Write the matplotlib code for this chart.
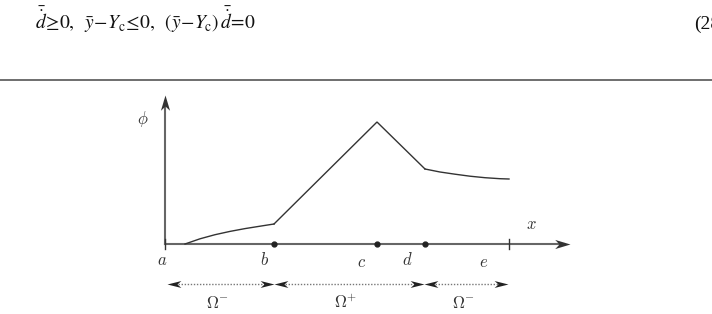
import matplotlib
matplotlib.use("Agg")
import matplotlib.pyplot as plt
from matplotlib.lines import Line2D
from matplotlib.path import Path

# ---- data (diagram units: x along axis from a, phi upward) ----
point_names = ["a", "b", "c", "d", "e"]
point_x = [0, 109, 212, 260, 344]
dot_points = ["b", "c", "d"]
tick_points = ["a", "e"]

seg1_x = [20, 35, 50, 65, 80, 95, 109]
seg1_phi = [0, 5.2, 9.3, 12.6, 15.4, 17.8, 20]
seg2_x = [109, 212, 260]
seg2_phi = [20, 122, 75]
seg3_x = [260, 275, 290, 305, 320, 335, 344]
seg3_phi = [75, 72, 69.8, 67.8, 66.3, 65.3, 65]

regions = [r"$\Omega^{-}$", r"$\Omega^{+}$", r"$\Omega^{-}$"]
region_bounds = [(2, 109), (109, 259), (259, 343)]

W, H = 712, 314
fig = plt.figure(figsize=(W / 100, H / 100), dpi=100)


def stealth(direction, w=0.3, notch=0.72):
    base = [(0, 0), (-1, w), (-notch, 0), (-1, -w), (0, 0)]
    if direction == "right":
        v = base
    elif direction == "left":
        v = [(-x, y) for x, y in base]
    else:  # up
        v = [(y, x) for x, y in base]
    codes = [Path.MOVETO, Path.LINETO, Path.LINETO, Path.LINETO, Path.CLOSEPOLY]
    return Path(v, codes)


# equation + rule
eq = (r"$\bar{\dot{d}}\!\geq\! 0,\;\;\bar{y}\!-\!Y_{\mathrm{c}}\!\leq\! 0,"
      r"\;\;(\bar{y}\!-\!Y_{\mathrm{c}})\,\bar{\dot{d}}\!=\!0$")
fig.text(35 / W, 1 - 29 / H, eq, fontsize=14, math_fontfamily="stix",
         va="baseline", ha="left", color="#111")
fig.text(694 / W, 1 - 29 / H, "(28)", fontsize=14, family="Liberation Serif",
         va="baseline", ha="left", color="#111")
fig.add_artist(Line2D([0, 1], [1 - 80 / H, 1 - 80 / H], color="#555", lw=1.2,
                      transform=fig.transFigure))

# diagram axes
x0, y0, x1, y1 = 165, 244, 570, 95
ax = fig.add_axes([x0 / W, 1 - y0 / H, (x1 - x0) / W, (y0 - y1) / H])
ax.set_xlim(0, x1 - x0)
ax.set_ylim(0, y0 - y1)
ax.axis("off")

axis_col = "#666666"
curve_col = "#333333"
# axes with stealth arrows
ax.plot([0, x1 - x0 - 6], [0, 0], color=axis_col, lw=1.5, clip_on=False)
ax.plot([0, 0], [0, y0 - y1 - 6], color=axis_col, lw=1.5, clip_on=False)
ax.plot([x1 - x0], [0], marker=stealth("right"), ms=22, color="#333",
        mec="none", clip_on=False)
ax.plot([0], [y0 - y1], marker=stealth("up"), ms=22, color="#333",
        mec="none", clip_on=False)

# curve
for xs, ys in [(seg1_x, seg1_phi), (seg2_x, seg2_phi), (seg3_x, seg3_phi)]:
    ax.plot(xs, ys, color=curve_col, lw=1.0, clip_on=False, solid_joinstyle="miter")

pos = dict(zip(point_names, point_x))
ax.plot([pos[n] for n in dot_points], [0] * len(dot_points), "o", color="#222",
        ms=3.5, clip_on=False)
for n in tick_points:
    ax.plot([pos[n], pos[n]], [-5, 5], color="#333", lw=1.0, clip_on=False)

lab_kw = dict(fontsize=12, math_fontfamily="cm", ha="center", va="center", color="#333")
label_offsets = {"a": (-3, -16), "b": (-9, -16), "c": (-15, -18), "d": (-18, -16), "e": (-25, -18)}
for n in point_names:
    dx, dy = label_offsets[n]
    ax.text(pos[n] + dx, dy, f"${n}$", **lab_kw)
ax.text(366, 20, "$x$", **lab_kw)
ax.text(-22, 125, r"$\phi$", **lab_kw)

# region arrows
ya = -40
for (s, e), lab in zip(region_bounds, regions):
    ax.plot([s + 8, e - 8], [ya, ya], color="#777", lw=1.0, ls=(0, (1, 1.2)),
            clip_on=False)
    ax.plot([s], [ya], marker=stealth("left", w=0.25), ms=20, color="#222",
            mec="none", clip_on=False)
    ax.plot([e], [ya], marker=stealth("right", w=0.25), ms=20, color="#222",
            mec="none", clip_on=False)
    ax.text((s + e) / 2 - 3, -59, lab, **lab_kw)

fig.savefig("out.png", dpi=100)
